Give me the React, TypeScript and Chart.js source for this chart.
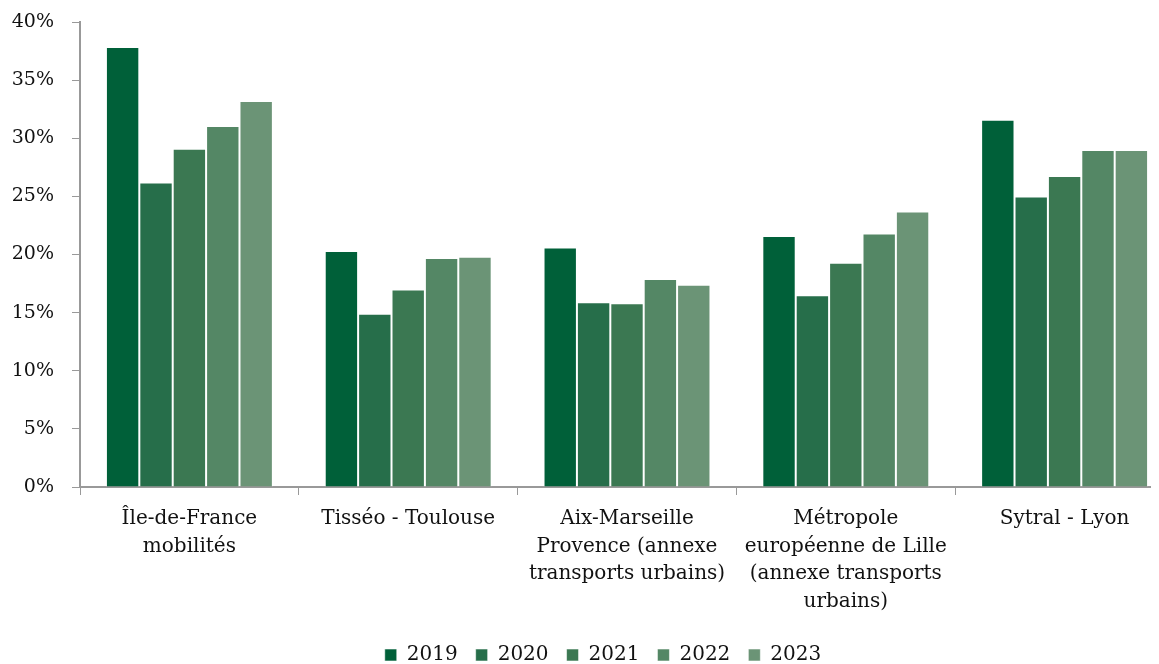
import React, { useEffect, useRef } from "react";
import { Chart, registerables } from "chart.js";
Chart.register(...registerables);

const categories: string[][] = [
  ["Île-de-France", "mobilités"],
  ["Tisséo - Toulouse"],
  ["Aix-Marseille", "Provence (annexe", "transports urbains)"],
  ["Métropole", "européenne de Lille", "(annexe transports", "urbains)"],
  ["Sytral - Lyon"],
];
const years = ["2019", "2020", "2021", "2022", "2023"];
const v2019 = [37.85, 20.3, 20.6, 21.6, 31.6];
const v2020 = [26.2, 14.9, 15.9, 16.5, 25.0];
const v2021 = [29.1, 17.0, 15.8, 19.3, 26.75];
const v2022 = [31.05, 19.7, 17.9, 21.8, 29.0];
const v2023 = [33.2, 19.8, 17.4, 23.7, 29.0];
const colors = ["#006039", "#266e4a", "#3b7852", "#548765", "#6b9476"];
const yTicks = [0, 5, 10, 15, 20, 25, 30, 35, 40];

const FONT = "'DejaVu Serif', 'Liberation Serif', serif";
const W = 1190;
const H = 656;

export default function App() {
  const ref = useRef<HTMLCanvasElement | null>(null);
  useEffect(() => {
    if (!ref.current) return;
    const series = [v2019, v2020, v2021, v2022, v2023];
    const chart = new Chart(ref.current, {
      type: "bar",
      data: {
        labels: categories,
        datasets: series.map((d, i) => ({
          label: years[i],
          data: d,
          yAxisID: "y",
          backgroundColor: colors[i],
          borderColor: "rgba(255,255,255,0.55)",
          borderWidth: 1,
          barPercentage: 1.0,
          categoryPercentage: 0.763,
        })),
      },
      options: {
        animation: false,
        responsive: false,
        maintainAspectRatio: false,
        layout: { padding: { left: 0, right: 0, top: 14, bottom: -11 } },
        plugins: {
          tooltip: { enabled: false },
          legend: {
            position: "bottom",
            labels: {
              color: "#111",
              font: { family: FONT, size: 20 },
              boxWidth: 12,
              boxHeight: 12,
              padding: 18,
            },
          },
        },
        scales: {
          x: {
            grid: {
              drawOnChartArea: false,
              drawTicks: true,
              tickLength: 8,
              color: "#999",
              offset: true,
            },
            border: { color: "#999", width: 2 },
            ticks: {
              color: "#111",
              font: { family: FONT, size: 20, lineHeight: 1.385 },
              maxRotation: 0,
              autoSkip: false,
              padding: 10,
            },
            afterFit: (axis: any) => {
              axis.height = 140;
            },
          },
          y: {
            min: 0,
            max: 40,
            afterBuildTicks: (axis: any) => {
              axis.ticks = yTicks.map((v) => ({ value: v }));
            },
            grid: {
              drawOnChartArea: false,
              drawTicks: true,
              tickLength: 8,
              color: "#999",
            },
            border: { color: "#999", width: 2 },
            ticks: {
              color: "#111",
              font: { family: FONT, size: 19 },
              padding: 18,
              callback: (v: any) => `${v}%`,
            },
            afterFit: (axis: any) => {
              axis.width = 72;
              axis.paddingTop = 0;
              axis.paddingBottom = 0;
            },
          },
          y2: {
            position: "right",
            display: true,
            grid: { display: false },
            border: { display: false },
            ticks: { display: false },
            afterFit: (axis: any) => {
              axis.width = 24;
              axis.paddingTop = 0;
              axis.paddingBottom = 0;
            },
          },
        },
      },
    });
    return () => chart.destroy();
  }, []);
  return (
    <div style={{ width: W, height: H }}>
      <canvas ref={ref} width={W} height={H} style={{ width: W, height: H, display: "block" }} />
    </div>
  );
}
